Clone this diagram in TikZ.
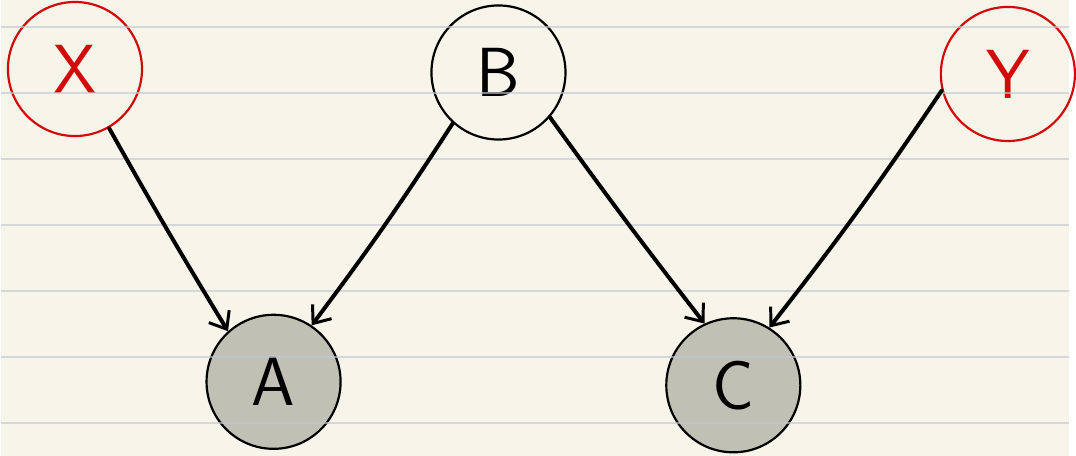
\documentclass[tikz,border=0pt]{standalone}
\usetikzlibrary{arrows.meta}
\definecolor{paper}{HTML}{F7F5E9}
\definecolor{ruling}{HTML}{C4C8D2}
\definecolor{inkred}{HTML}{D20A0A}
\definecolor{observed}{HTML}{C0C0B4}

\begin{document}
\begin{tikzpicture}[x=1pt, y=-1pt, >={Straight Barb[length=15pt,width=24pt,line width=3pt]},
  font=\sffamily\fontsize{70}{70}\selectfont,
  latent/.style={circle, draw=inkred, line width=2.2pt, text=inkred, minimum size=135pt, inner sep=0pt},
  hidden/.style={circle, draw=black, line width=2.2pt, minimum size=135pt, inner sep=0pt},
  seen/.style={circle, draw=black, line width=2.2pt, fill=observed, minimum size=135pt, inner sep=0pt},
  edge/.style={->, line width=4pt, line cap=round}]

% --- paper with ruled lines ---
\fill[paper] (0,0) rectangle (1076,459);

% --- nodes ---
\node[latent] (X) at (74.5,69.5) {X};
\node[hidden] (B) at (501,73) {B};
\node[latent] (Y) at (1014,74.5) {Y};
\node[seen] (A) at (274.5,384.5) {A};
\node[seen] (C) at (737.5,388) {C};

\foreach \y in {27,93.5,160,226.5,293,359.5,426}
  \draw[ruling, line width=2pt, opacity=0.65] (0,\y) -- (1076,\y);

% --- edges ---
\draw[edge] (X.300) to[bend right=1] (A.132);
\draw[edge] (B.228) to[bend left=2] (A.56);
\draw[edge] (B.319) to[bend right=1] (C.115);
\draw[edge] (Y.194) to[bend left=2] (C.58);

\end{tikzpicture}
\end{document}
